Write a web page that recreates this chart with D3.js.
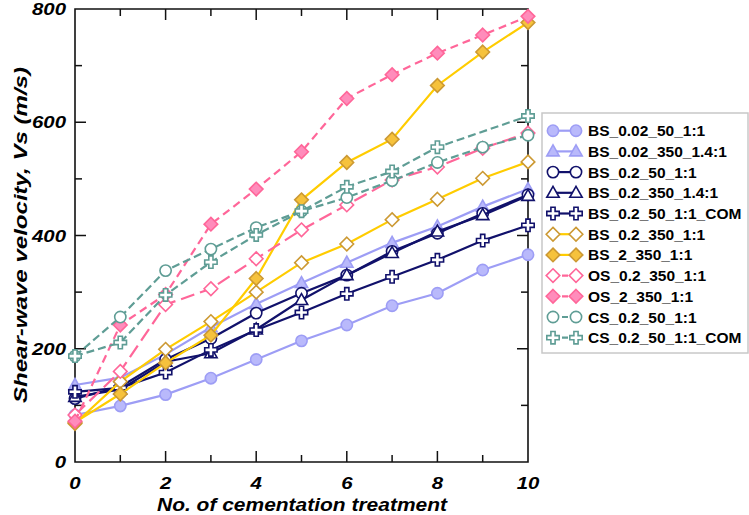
<!DOCTYPE html>
<meta charset="utf-8">
<style>
    body { margin: 0; background: #fff; }
    .tick-label { font: bold italic 17px "Liberation Sans", Arial, sans-serif; }
    .title { font: bold italic 18px "Liberation Sans", Arial, sans-serif; }
    .legend text { font: bold 15.5px "Liberation Sans", Arial, sans-serif; }
</style>
<svg width="749" height="515"></svg>
<script src="https://cdn.jsdelivr.net/npm/d3@7"></script>
<script>

    // treatments 0..10
    var treatments = [0, 1, 2, 3, 4, 5, 6, 7, 8, 9, 10];

    var names = ["BS_0.02_50_1:1", "BS_0.02_350_1.4:1", "BS_0.2_50_1:1", "BS_0.2_350_1.4:1",
        "BS_0.2_50_1:1_COM", "BS_0.2_350_1:1", "BS_2_350_1:1", "OS_0.2_350_1:1",
        "OS_2_350_1:1", "CS_0.2_50_1:1", "CS_0.2_50_1:1_COM"];

    var bs002_50 = [83, 99, 119, 148, 181, 214, 242, 276, 298, 339, 366];
    var bs002_350 = [136, 149, 190, 238, 279, 316, 352, 387, 416, 451, 482];
    var bs02_50 = [112, 133, 181, 218, 263, 298, 330, 372, 404, 439, 472];
    var bs02_350_14 = [115, 128, 177, 192, 234, 286, 330, 369, 407, 436, 470];
    var bs02_50_com = [124, 131, 158, 198, 233, 264, 297, 327, 357, 391, 418];
    var bs02_350 = [68, 142, 199, 248, 300, 352, 385, 428, 464, 501, 530];
    var bs2_350 = [70, 120, 175, 224, 324, 463, 529, 570, 665, 724, 776];
    var os02_350 = [83, 160, 278, 306, 359, 410, 454, 498, 521, 554, 581];
    var os2_350 = [72, 242, 296, 420, 482, 548, 642, 684, 722, 754, 787];
    var cs02_50 = [187, 256, 338, 376, 414, 443, 467, 497, 529, 556, 577];
    var cs02_50_com = [187, 211, 295, 353, 401, 443, 486, 513, 556, null, 611];

    var xTicks = [0, 2, 4, 6, 8, 10];
    var yTicks = [0, 200, 400, 600, 800];

    var values = [bs002_50, bs002_350, bs02_50, bs02_350_14, bs02_50_com, bs02_350,
        bs2_350, os02_350, os2_350, cs02_50, cs02_50_com];

    var lilac = "#9d9df5", navy = "#11116b", gold = "#ffcc00", tan = "#cc9933",
        pink = "#ff6699", teal = "#5f9d95";

    // look of each series, same order as names
    var styles = [
        {line: lilac, shape: "circle", stroke: lilac, fill: "#b9b9fb", dash: null},
        {line: lilac, shape: "triangle", stroke: lilac, fill: "#b9b9fb", dash: null},
        {line: navy, shape: "circle", stroke: navy, fill: "#fff", dash: null},
        {line: navy, shape: "triangle", stroke: navy, fill: "#fff", dash: null},
        {line: navy, shape: "cross", stroke: navy, fill: "#fff", dash: null},
        {line: gold, shape: "diamond", stroke: tan, fill: "#fff", dash: null},
        {line: gold, shape: "diamond", stroke: tan, fill: "#f6c23c", dash: null},
        {line: pink, shape: "diamond", stroke: pink, fill: "#fff", dash: "14,6"},
        {line: pink, shape: "diamond", stroke: pink, fill: "#ff8cbb", dash: "8,5"},
        {line: teal, shape: "circle", stroke: teal, fill: "#fff", dash: "8,4"},
        {line: teal, shape: "cross", stroke: teal, fill: "#fff", dash: "8,4"}
    ];

    var svg = d3.select("svg");

    var x = d3.scaleLinear().domain([0, 10]).range([75, 528]);
    var y = d3.scaleLinear().domain([0, 800]).range([462, 9]);

    function shapePath(shape) {
        if (shape == "circle") return d3.symbol().type(d3.symbolCircle).size(100)();
        if (shape == "triangle") return "M0,-6.5L6.2,4.5L-6.2,4.5Z";
        if (shape == "diamond") return "M0,-6.8L6.8,0L0,6.8L-6.8,0Z";
        // plus outline
        var a = 2.1, b = 6.2;
        return "M" + -a + "," + -b + "L" + a + "," + -b + "L" + a + "," + -a + "L" + b + "," + -a +
            "L" + b + "," + a + "L" + a + "," + a + "L" + a + "," + b + "L" + -a + "," + b +
            "L" + -a + "," + a + "L" + -b + "," + a + "L" + -b + "," + -a + "L" + -a + "," + -a + "Z";
    }

    // axes, ticks pointing inward on all four sides
    var axes = svg.append("g");
    axes.append("path")
        .attr("d", "M" + x(0) + "," + y(800) + "L" + x(0) + "," + y(0) + "L" + x(10) + "," + y(0) +
            "L" + x(10) + "," + y(800) + "Z")
        .attr("fill", "none").attr("stroke", "#111").attr("stroke-width", 1.6);

    var xt = d3.range(1, 10);
    axes.selectAll(".xtb").data(xt).enter().append("line")
        .attr("x1", d => x(d)).attr("x2", d => x(d))
        .attr("y1", y(0)).attr("y2", d => y(0) - (d % 2 ? 7 : 11))
        .attr("stroke", "#111").attr("stroke-width", 1.5);
    axes.selectAll(".xtt").data(xt).enter().append("line")
        .attr("x1", d => x(d)).attr("x2", d => x(d))
        .attr("y1", y(800)).attr("y2", d => y(800) + (d % 2 ? 7 : 11))
        .attr("stroke", "#111").attr("stroke-width", 1.5);
    var yt = [100, 200, 300, 400, 500, 600, 700];
    axes.selectAll(".ytl").data(yt).enter().append("line")
        .attr("y1", d => y(d)).attr("y2", d => y(d))
        .attr("x1", x(0)).attr("x2", d => x(0) + (d % 200 ? 7 : 11))
        .attr("stroke", "#111").attr("stroke-width", 1.5);
    axes.selectAll(".ytr").data(yt).enter().append("line")
        .attr("y1", d => y(d)).attr("y2", d => y(d))
        .attr("x1", x(10)).attr("x2", d => x(10) - (d % 200 ? 7 : 11))
        .attr("stroke", "#111").attr("stroke-width", 1.5);

    // tick labels, a little wider than the font
    axes.selectAll(".xl").data(xTicks).enter().append("g")
        .attr("transform", d => "translate(" + x(d) + ",489) scale(1.2,1)")
        .append("text").attr("class", "tick-label").attr("text-anchor", "middle").text(d => d);
    axes.selectAll(".yl").data(yTicks).enter().append("g")
        .attr("transform", d => "translate(66," + (y(d) + 6) + ") scale(1.2,1)")
        .append("text").attr("class", "tick-label").attr("text-anchor", "end").text(d => d);

    svg.append("text").attr("class", "title")
        .attr("x", 302).attr("y", 511).attr("text-anchor", "middle")
        .attr("textLength", 290).attr("lengthAdjust", "spacingAndGlyphs")
        .text("No. of cementation treatment");
    svg.append("text").attr("class", "title")
        .attr("transform", "translate(27,235) rotate(-90)").attr("text-anchor", "middle")
        .attr("textLength", 336).attr("lengthAdjust", "spacingAndGlyphs")
        .text("Shear-wave velocity, Vs (m/s)");

    // series
    var line = d3.line().x(d => x(d[0])).y(d => y(d[1]));
    var plot = svg.append("g");

    values.forEach(function(vals, i) {
        var st = styles[i];
        var pts = treatments.map((t, j) => [t, vals[j]]).filter(p => p[1] != null);
        var g = plot.append("g");
        g.append("path").attr("d", line(pts))
            .attr("fill", "none").attr("stroke", st.line).attr("stroke-width", 2.2)
            .attr("stroke-dasharray", st.dash);
        g.selectAll("path.m").data(pts).enter().append("path").attr("class", "m")
            .attr("d", shapePath(st.shape))
            .attr("transform", d => "translate(" + x(d[0]) + "," + y(d[1]) + ")")
            .attr("fill", st.fill).attr("stroke", st.stroke).attr("stroke-width", 1.6);
    });

    // legend
    var legend = svg.append("g").attr("class", "legend");
    legend.append("rect").attr("x", 542).attr("y", 113).attr("width", 206).attr("height", 240)
        .attr("fill", "#fff").attr("stroke", "#c8c8c8").attr("stroke-width", 1.5);

    var row = legend.selectAll(".row").data(names).enter().append("g")
        .attr("transform", (d, i) => "translate(0," + (130.7 + i * 20.7) + ")");
    row.append("line").attr("x1", 553).attr("x2", 576)
        .attr("stroke", (d, i) => styles[i].line).attr("stroke-width", 2.2)
        .attr("stroke-dasharray", (d, i) => styles[i].dash ? "6,3" : null);
    [553, 576].forEach(function(mx) {
        row.append("path")
            .attr("d", (d, i) => shapePath(styles[i].shape))
            .attr("transform", "translate(" + mx + ",0)")
            .attr("fill", (d, i) => styles[i].fill).attr("stroke", (d, i) => styles[i].stroke)
            .attr("stroke-width", 1.6);
    });
    row.append("text").attr("x", 588).attr("y", 5.5).text(d => d);

</script>
